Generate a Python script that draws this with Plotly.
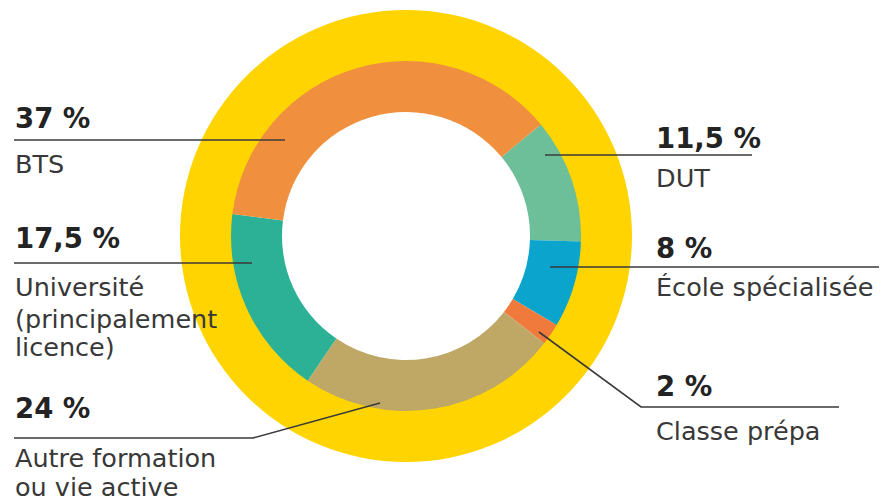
import plotly.graph_objects as go

# ---- data ----
categories = ["DUT", "École spécialisée", "Classe prépa",
              "Autre formation ou vie active", "Université (principalement licence)", "BTS"]
values = [11.5, 8, 2, 24, 17.5, 37]
value_labels = ["11,5 %", "8 %", "2 %", "24 %", "17,5 %", "37 %"]
colors = ["#6DBF99", "#0BA4CC", "#EF7A3C", "#BFA866", "#2CB196", "#F0903F"]
ring_color = "#FFD400"

# ---- layout constants (pixels) ----
W, H = 882, 501
CX, CY = 406, 236          # centre of the rings
R_OUT, R_MID, R_IN = 226, 175, 124


def px(x):
    return x / W


def py(y):
    return 1 - y / H


def domain(r):
    return dict(x=[px(CX - r), px(CX + r)], y=[py(CY + r), py(CY - r)])


fig = go.Figure()
fig.add_trace(go.Pie(
    values=[1], labels=["total"], domain=domain(R_OUT), hole=(R_MID - 3) / R_OUT,
    marker=dict(colors=[ring_color], line=dict(width=0)),
    textinfo="none", hoverinfo="skip", sort=False, showlegend=False,
))
fig.add_trace(go.Pie(
    values=values, labels=categories, domain=domain(R_MID), hole=R_IN / R_MID,
    marker=dict(colors=colors, line=dict(width=0)),
    textinfo="none", hoverinfo="label+value", sort=False, direction="clockwise",
    rotation=50.4, showlegend=False,
))

FONT = "DejaVu Sans"
BOLD_SIZE = 27.5
REG_SIZE = 25.5
DARK = "#232323"
GREY = "#383838"

# label placement: (category index, x, y of value, list of (y, text line))
label_pos = [
    (5, 14, 118, [(164, "BTS")]),
    (4, 14, 238, [(287, "Université"), (319, "(principalement"), (347, "licence)")]),
    (3, 14, 408, [(458, "Autre formation"), (487, "ou vie active")]),
    (0, 655, 138, [(178, "DUT")]),
    (1, 655, 287 - 39, [(287, "École spécialisée")]),
    (2, 655, 386, [(431, "Classe prépa")]),
]

annotations = []
for idx, x, yv, lines in label_pos:
    annotations.append(dict(
        x=px(x), y=py(yv), xref="paper", yref="paper", xanchor="left", yanchor="middle",
        text="<b>" + value_labels[idx] + "</b>", showarrow=False, borderpad=0,
        font=dict(family=FONT, size=BOLD_SIZE, color=DARK),
    ))
    for yl, t in lines:
        annotations.append(dict(
            x=px(x), y=py(yl), xref="paper", yref="paper", xanchor="left", yanchor="middle",
            text=t, showarrow=False, borderpad=0,
            font=dict(family=FONT, size=REG_SIZE, color=GREY),
        ))

# leader lines (pixel polylines)
leaders = [
    [(14, 140), (285, 140)],
    [(14, 263), (252, 263)],
    [(14, 438), (253, 438), (380, 403)],
    [(545, 155), (752, 155)],
    [(550, 267), (879, 267)],
    [(539, 332), (641, 407), (839, 407)],
]
shapes = []
for pts in leaders:
    path = "M " + " L ".join(f"{px(x):.5f},{py(y):.5f}" for x, y in pts)
    shapes.append(dict(type="path", path=path, xref="paper", yref="paper",
                       line=dict(color="#3a3a3a", width=1.6), layer="above"))

fig.update_layout(
    width=W, height=H, margin=dict(l=0, r=0, t=0, b=0),
    paper_bgcolor="white", plot_bgcolor="white",
    annotations=annotations, shapes=shapes, showlegend=False,
)
fig.write_html("out.html", config={"displayModeBar": False},
               post_script="document.body.style.margin='0';document.body.style.overflow='hidden';")
